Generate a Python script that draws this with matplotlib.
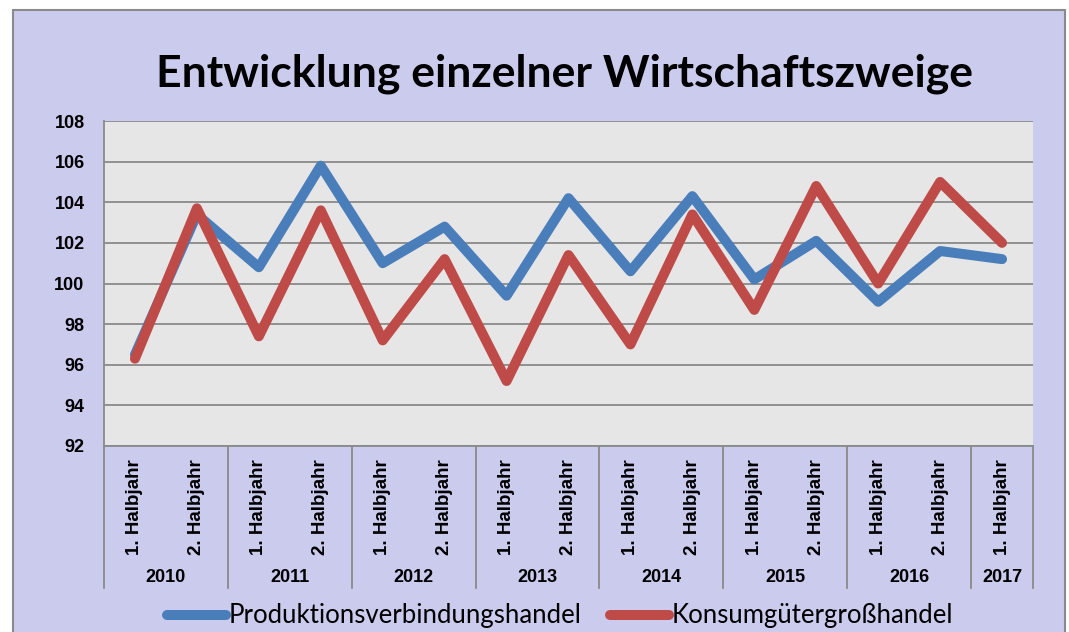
import matplotlib.pyplot as plt
from matplotlib.patches import Rectangle
from matplotlib.transforms import blended_transform_factory

halbjahre = ["1. Halbjahr", "2. Halbjahr"] * 7 + ["1. Halbjahr"]
jahre = ["2010", "2011", "2012", "2013", "2014", "2015", "2016", "2017"]
jahr_laenge = [2, 2, 2, 2, 2, 2, 2, 1]

produktion = [96.5, 103.4, 100.8, 105.8, 101.0, 102.8, 99.4, 104.2,
              100.6, 104.3, 100.2, 102.1, 99.1, 101.6, 101.2]
konsum = [96.3, 103.7, 97.4, 103.6, 97.2, 101.2, 95.2, 101.4,
          97.0, 103.4, 98.7, 104.8, 100.0, 105.0, 102.0]

BG = "#CBCBEE"
GRID = "#8A8A8A"


def plot():
    fig = plt.figure(figsize=(10.69, 6.32), dpi=100, facecolor="white")
    fig.patches.append(Rectangle((13 / 1069, -0.02), 1052 / 1069, 1.02 - 10 / 632,
                                 transform=fig.transFigure, facecolor=BG,
                                 edgecolor=GRID, linewidth=1.5, zorder=-1))

    ax = fig.add_axes([104 / 1069, 1 - 446 / 632, 929 / 1069, 325 / 632])
    ax.set_zorder(1)
    ax.set_facecolor("#E6E6E6")

    x = list(range(len(halbjahre)))
    ax.plot(x, produktion, color="#4A7EBB", lw=7.2, solid_capstyle="round",
            label="Produktionsverbindungshandel", zorder=3)
    ax.plot(x, konsum, color="#BE4B48", lw=7.2, solid_capstyle="round",
            label="Konsumgütergroßhandel", zorder=4)

    ax.set_ylim(92, 108)
    ax.set_xlim(-0.5, len(halbjahre) - 0.5)
    ax.set_yticks(range(92, 109, 2))
    ax.yaxis.grid(True, color=GRID, lw=1.3)
    ax.set_axisbelow(True)
    for s in ["top", "right"]:
        ax.spines[s].set_visible(False)
    for s in ["left", "bottom"]:
        ax.spines[s].set_color(GRID)
        ax.spines[s].set_linewidth(1.3)

    ax.set_xticks(x, [])
    ax.tick_params(axis="x", length=0)
    ax.tick_params(axis="y", length=0, pad=14)
    for t in ax.get_yticklabels():
        t.set_fontsize(13)
        t.set_fontweight("bold")
        t.set_family("Liberation Sans")

    trans = blended_transform_factory(ax.transData, ax.transAxes)
    for i, lab in zip(x, halbjahre):
        ax.text(i, -0.04, lab, transform=trans, rotation=90, ha="center",
                va="top", fontsize=13.5, fontweight="bold", family="Liberation Sans")

    start = -0.5
    for jahr, n in zip(jahre, jahr_laenge):
        ax.plot([start, start], [0, -0.437], color=GRID, lw=1.3,
                transform=trans, clip_on=False)
        ax.text(start + n / 2, -0.406, jahr, transform=trans, ha="center",
                va="center", fontsize=13, fontweight="bold", family="Liberation Sans")
        start += n
    ax.plot([start, start], [0, -0.437], color=GRID, lw=1.3,
            transform=trans, clip_on=False)

    fig.text(0.528, 0.884, "Entwicklung einzelner Wirtschaftszweige", ha="center",
             va="center", fontsize=32, fontweight="bold", family="Lato")

    fig.legend(loc="center", bbox_to_anchor=(0.524, 1 - 616 / 632), ncol=2,
               frameon=False, handlelength=2.3, handletextpad=0.1, columnspacing=1.1,
               prop={"family": "Lato", "size": 18.5})

    fig.savefig("out.png", dpi=100, facecolor=fig.get_facecolor())


if __name__ == "__main__":
    plot()
